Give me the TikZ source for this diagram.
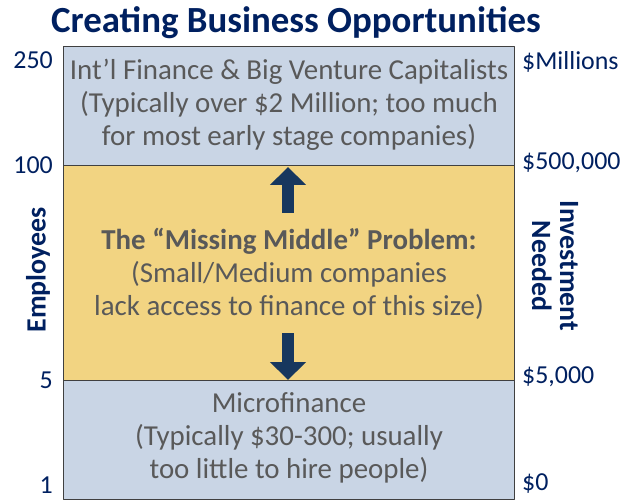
\documentclass[tikz,border=0pt]{standalone}
\usepackage{fontspec}
\setmainfont{Carlito}
\usetikzlibrary{arrows.meta}
\definecolor{navy}{RGB}{0,32,96}
\definecolor{arrowblue}{RGB}{23,55,94}
\definecolor{bluegray}{RGB}{201,213,229}
\definecolor{sand}{RGB}{242,212,130}
\definecolor{textgray}{RGB}{89,89,89}

\begin{document}
\begin{tikzpicture}[x=1bp,y=-1bp,line join=round,
  boxline/.style={draw=black!75,line width=1bp},
  boxtext/.style={text=textgray,align=center,font=\fontsize{29}{33}\selectfont},
  scalelabel/.style={text=navy,font=\fontsize{26}{28}\selectfont,inner sep=0pt},
  sidelabel/.style={text=navy,align=center,font=\bfseries\fontsize{28}{28}\selectfont},
  bigarrow/.style={draw=arrowblue,line width=12bp,line cap=butt,-{Triangle[length=18bp,width=35bp]}}]
      \useasboundingbox (0,0) rectangle (632,500);
      \node[text=navy,font=\bfseries\fontsize{37}{40}\selectfont] (title) at (296,23) {Creating Business Opportunities};
      % the three bands
      \draw[boxline,fill=bluegray] (63,47) rectangle (514,166);
      \draw[boxline,fill=sand] (63,166) rectangle (514,380);
      \draw[boxline,fill=bluegray] (63,380) rectangle (514,499);
      \node[boxtext] (big) at (289,105) {Int’l Finance \& Big Venture Capitalists\\(Typically over \$2 Million; too much\\for most early stage companies)};
      \node[boxtext] (middle) at (289,274) {\textbf{The “Missing Middle” Problem:}\\(Small/Medium companies\\lack access to finance of this size)};
      \node[boxtext] (micro) at (289,438) {Microfinance\\(Typically \$30-300; usually\\too little to hire people)};
      % arrows
      \coordinate (upfoot) at (288,213);
      \coordinate (uptip) at (288,167);
      \coordinate (downfoot) at (288,333);
      \coordinate (downtip) at (288,380);
      \draw[bigarrow] (upfoot) -- (uptip);
      \draw[bigarrow] (downfoot) -- (downtip);
      % scales
      \foreach \y/\t [count=\i] in {60/250,165/100,380/5,485/1}
      \node[scalelabel,anchor=east] (emp\i) at (53,\y) {\t};
      \foreach \y/\t [count=\i] in {62/\$Millions,163/\$500{,}000,377/\$5{,}000,484/\$0}
      \node[scalelabel,anchor=west] (inv\i) at (522,\y) {\t};
      \node[sidelabel,rotate=90] (employees) at (38,270) {Employees};
      \node[sidelabel,rotate=-90] (needed) at (555,266) {Investment\\Needed};
\end{tikzpicture}
\end{document}
